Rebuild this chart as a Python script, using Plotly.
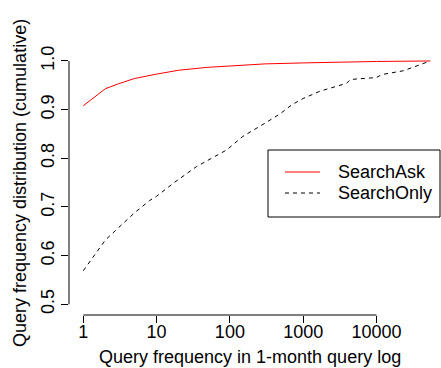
import math
import plotly.graph_objects as go

# ---- data ----
ask_freq = [1, 2, 3, 5, 10, 20, 50, 100, 300, 1000, 3000, 10000, 54000]
ask_cum = [0.908, 0.943, 0.953, 0.964, 0.973, 0.981, 0.987, 0.990, 0.994, 0.996, 0.998, 0.999, 1.0]

only_freq = [1, 2, 3, 5, 8, 10, 17, 35, 90, 150, 300, 480, 700, 1000, 1700, 3900, 4400, 10000, 11750, 23400, 54000]
only_cum = [0.569, 0.632, 0.657, 0.688, 0.713, 0.722, 0.749, 0.783, 0.817, 0.845, 0.872, 0.891, 0.910,
            0.923, 0.938, 0.954, 0.962, 0.966, 0.972, 0.980, 1.0]

series_names = ["SearchAsk", "SearchOnly"]
x_tickvals = [1, 10, 100, 1000, 10000]
x_ticktext = ["1", "10", "100", "1000", "10000"]
y_tickvals = [0.5, 0.6, 0.7, 0.8, 0.9, 1.0]
y_ticktext = ["0.5", "0.6", "0.7", "0.8", "0.9", "1.0"]

# ---- layout geometry ----
W, H = 441, 368
L, R, T, B = 69, 0, 51, 53
x_range = [-0.195, 4.88]   # log10 units
y_range = [0.478, 1.0205]
FONT = "Liberation Sans, Arial, Helvetica, sans-serif"
FS = 18


def px_x(p):
    return (p - L) / (W - L - R)


def px_y(p):
    return (H - B - p) / (H - T - B)


def lx(v):
    return (math.log10(v) - x_range[0]) / (x_range[1] - x_range[0])


def ly(v):
    return (v - y_range[0]) / (y_range[1] - y_range[0])


fig = go.Figure()
fig.add_trace(go.Scatter(x=ask_freq, y=ask_cum, mode="lines", name=series_names[0],
                         line=dict(color="#FF0000", width=1), showlegend=False))
fig.add_trace(go.Scatter(x=only_freq, y=only_cum, mode="lines", name=series_names[1],
                         line=dict(color="black", width=1, dash="4px,4px"), showlegend=False))

shapes = [
    # x axis line (from first to last tick)
    dict(type="line", xref="paper", yref="paper", x0=lx(x_tickvals[0]), x1=lx(x_tickvals[-1]),
         y0=0, y1=0, line=dict(color="black", width=1)),
    # y axis line
    dict(type="line", xref="paper", yref="paper", x0=0, x1=0,
         y0=ly(y_tickvals[0]), y1=ly(y_tickvals[-1]), line=dict(color="black", width=1)),
    # legend box
    dict(type="rect", xref="paper", yref="paper", x0=px_x(268), x1=px_x(440),
         y0=px_y(217), y1=px_y(150), line=dict(color="black", width=1), fillcolor="white"),
    dict(type="line", xref="paper", yref="paper", x0=px_x(285), x1=px_x(320),
         y0=px_y(172), y1=px_y(172), line=dict(color="#FF0000", width=1)),
    dict(type="line", xref="paper", yref="paper", x0=px_x(285), x1=px_x(320),
         y0=px_y(193), y1=px_y(193), line=dict(color="black", width=1, dash="4px,4px")),
]

annotations = [
    dict(text=series_names[0], xref="paper", yref="paper", x=px_x(336), y=px_y(172),
         xanchor="left", yanchor="middle", showarrow=False, font=dict(size=FS, color="black", family=FONT)),
    dict(text=series_names[1], xref="paper", yref="paper", x=px_x(336), y=px_y(193),
         xanchor="left", yanchor="middle", showarrow=False, font=dict(size=FS, color="black", family=FONT)),
    dict(text="Query frequency in 1-month query log", xref="paper", yref="paper",
         x=px_x(250), y=px_y(357), xanchor="center", yanchor="middle", showarrow=False,
         font=dict(size=FS, color="black", family=FONT)),
    dict(text="Query frequency distribution (cumulative)", xref="paper", yref="paper",
         x=px_x(20), y=px_y(183), xanchor="center", yanchor="middle", showarrow=False, textangle=-90,
         font=dict(size=FS, color="black", family=FONT)),
]

fig.update_layout(
    width=W, height=H,
    margin=dict(l=L, r=R, t=T, b=B, pad=0),
    paper_bgcolor="white", plot_bgcolor="white",
    font=dict(family=FONT, size=FS, color="black"),
    shapes=shapes, annotations=annotations,
    xaxis=dict(type="log", range=x_range, tickvals=x_tickvals, ticktext=x_ticktext,
               ticks="outside", ticklen=7, tickwidth=1, tickcolor="black",
               ticklabelstandoff=-7,
               showline=False, showgrid=False, zeroline=False,
               tickfont=dict(size=FS, color="black", family=FONT)),
    yaxis=dict(range=y_range, tickvals=y_tickvals, ticktext=y_ticktext, tickangle=-90,
               ticks="outside", ticklen=7, tickwidth=1, tickcolor="black",
               showline=False, showgrid=False, zeroline=False,
               tickfont=dict(size=FS, color="black", family=FONT)),
)

fig.write_html("out.html", config={"displayModeBar": False},
               post_script="document.body.style.margin='0';document.body.style.overflow='hidden';")
